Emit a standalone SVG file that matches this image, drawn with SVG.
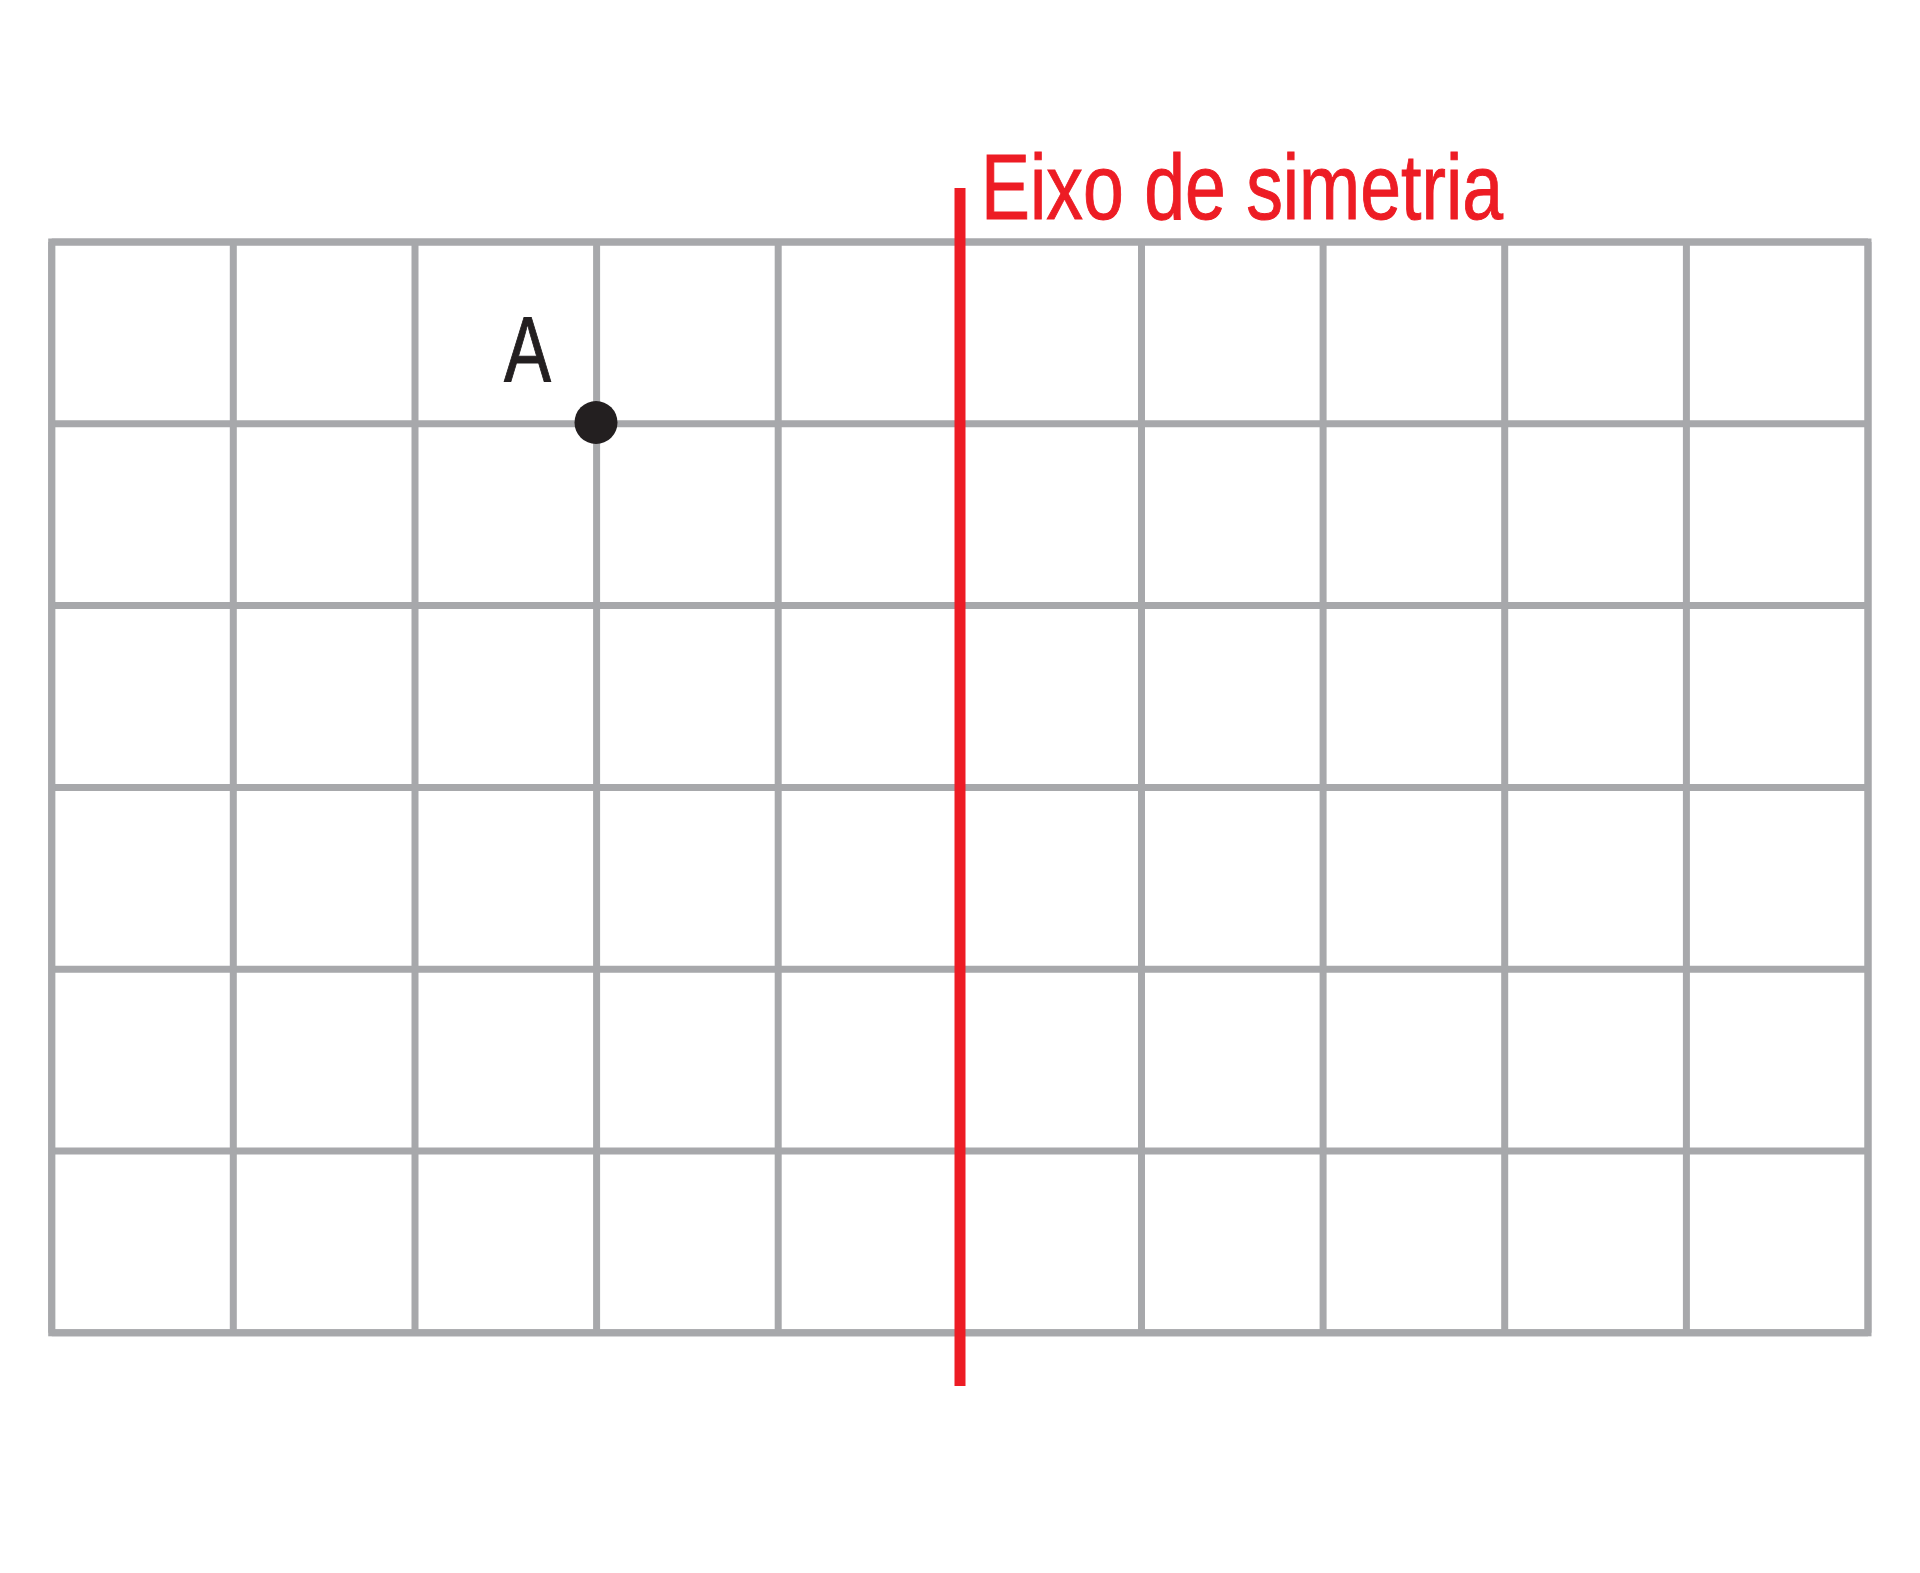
<svg xmlns="http://www.w3.org/2000/svg" width="1920" height="1573" viewBox="0 0 1920 1573">
<style>
.grid{stroke:#A7A8AB;stroke-width:7;fill:none}
.axis{stroke:#ED1C24;stroke-width:11}
.red{fill:#ED1C24;stroke:#ED1C24;stroke-width:1;font-family:"Liberation Sans",Arial,sans-serif;font-size:93px}
.dark{fill:#231F20;stroke:#231F20;stroke-width:1;font-family:"Liberation Sans",Arial,sans-serif;font-size:92px}
</style>
<rect width="1920" height="1573" fill="#FFFFFF"/>
<g id="grid" class="grid">
<path d="M51.7 242H1868M51.7 423.8H1868M51.7 605.6H1868M51.7 787.4H1868M51.7 969.2H1868M51.7 1151H1868M51.7 1332.8H1868"/>
<path d="M51.7 242V1332.8M233.3 242V1332.8M415 242V1332.8M596.6 242V1332.8M778.2 242V1332.8M959.9 242V1332.8M1141.5 242V1332.8M1323.1 242V1332.8M1504.7 242V1332.8M1686.4 242V1332.8M1868 242V1332.8"/>
<rect x="51.7" y="242" width="1816.3" height="1090.8"/>
</g>
<g id="connectors">
<line id="axis" class="axis" x1="960" y1="188" x2="960" y2="1386"/>
</g>
<g id="axis-label">
<text class="red" x="981" y="219" textLength="522" lengthAdjust="spacingAndGlyphs">Eixo de simetria</text>
</g>
<g id="point-A">
<circle cx="596" cy="422.5" r="21.5" fill="#231F20"/>
<text class="dark" x="504" y="382" textLength="47" lengthAdjust="spacingAndGlyphs">A</text>
</g>
</svg>
